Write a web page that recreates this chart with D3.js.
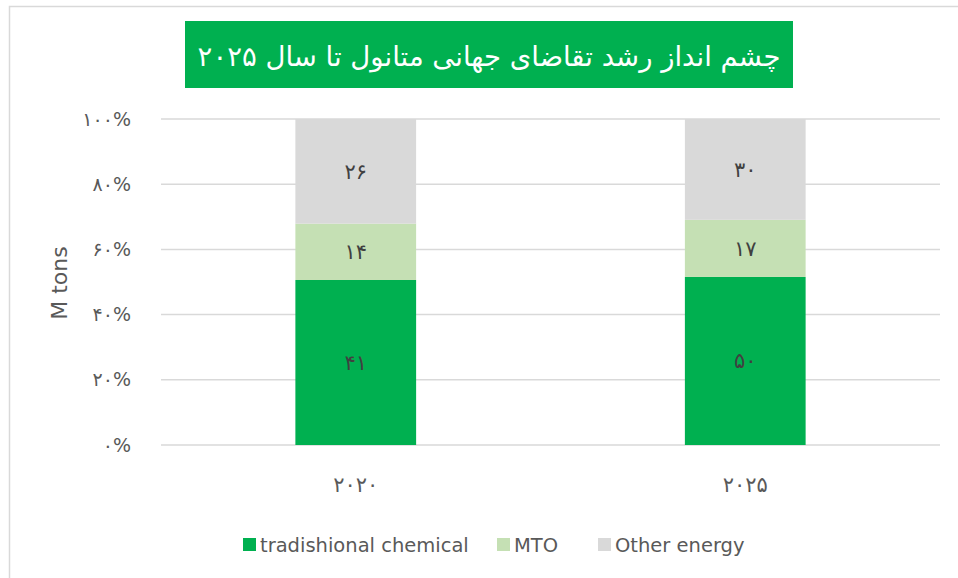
<!DOCTYPE html>
<html>
<head>
<meta charset="utf-8">
<script src="https://cdn.jsdelivr.net/npm/d3@7"></script>
<style>
  body { margin: 0; background: #fff; }
  text { font-family: "DejaVu Sans", "Open Sans", sans-serif; }
</style>
</head>
<body>
<div id="chart"></div>
<script>
var svgWidth = 958;
var svgHeight = 578;

// chart data
var categories = ["2020", "2025"];
var categoryLabels = ["۲۰۲۰", "۲۰۲۵"];
var seriesNames = ["tradishional chemical", "MTO", "Other energy"];
var traditional = [41, 50];
var mto = [14, 17];
var otherEnergy = [26, 30];
var valueLabels = [["۴۱", "۵۰"], ["۱۴", "۱۷"], ["۲۶", "۳۰"]];
var tickValues = [0, 0.2, 0.4, 0.6, 0.8, 1];
var tickLabels = ["۰%", "۲۰%", "۴۰%", "۶۰%", "۸۰%", "۱۰۰%"];
var title = "چشم انداز رشد تقاضای جهانی متانول تا سال ۲۰۲۵";

var colors = ["#00b050", "#c5e0b4", "#d9d9d9"];

var margin = { top: 119, right: 18, bottom: 133, left: 161 };
var width = svgWidth - margin.left - margin.right;
var height = svgHeight - margin.top - margin.bottom;

var svg = d3.select("#chart")
  .append("svg")
  .attr("width", svgWidth)
  .attr("height", svgHeight);

// outer chart border
svg.append("rect")
  .attr("x", 9.5).attr("y", 6.5)
  .attr("width", 980).attr("height", 620)
  .attr("fill", "none")
  .attr("stroke", "#d9d9d9")
  .attr("stroke-width", 1.5);

// title box
svg.append("rect")
  .attr("x", 185).attr("y", 21)
  .attr("width", 608).attr("height", 67)
  .attr("fill", "#00b050");

svg.append("text")
  .attr("x", 489).attr("y", 66)
  .attr("text-anchor", "middle")
  .attr("direction", "rtl")
  .attr("fill", "#fff")
  .attr("font-size", "27.5px")
  .text(title);

var chartGroup = svg.append("g")
  .attr("transform", `translate(${margin.left}, ${margin.top})`);

// stack rows as percentages
var rows = categories.map(function(c, i) {
  var total = traditional[i] + mto[i] + otherEnergy[i];
  return { cat: c, idx: i, s0: traditional[i] / total, s1: mto[i] / total, s2: otherEnergy[i] / total };
});

var stack = d3.stack().keys(["s0", "s1", "s2"]);
var stacked = stack(rows);

var xScale = d3.scaleBand()
  .domain(categories)
  .range([0, width])
  .paddingInner(0.69)
  .paddingOuter(0.345);

var yScale = d3.scaleLinear()
  .domain([0, 1])
  .range([height, 0]);

// gridlines
chartGroup.append("g")
  .selectAll("line")
  .data(tickValues)
  .enter()
  .append("line")
  .attr("x1", 0)
  .attr("x2", width)
  .attr("y1", d => yScale(d))
  .attr("y2", d => yScale(d))
  .attr("stroke", "#d9d9d9")
  .attr("stroke-width", 1.5);

// y axis labels
var leftAxis = d3.axisLeft(yScale)
  .tickValues(tickValues)
  .tickSize(0)
  .tickPadding(30)
  .tickFormat((d, i) => tickLabels[i]);

var yAxis = chartGroup.append("g").call(leftAxis);
yAxis.select(".domain").remove();
yAxis.selectAll("text")
  .attr("font-size", "19px")
  .attr("fill", "#595959")
  .style("font-family", "DejaVu Sans, sans-serif");

// x axis labels
var bottomAxis = d3.axisBottom(xScale)
  .tickSize(0)
  .tickPadding(32)
  .tickFormat((d, i) => categoryLabels[i]);

var xAxis = chartGroup.append("g")
  .attr("transform", `translate(0, ${height})`)
  .call(bottomAxis);
xAxis.select(".domain").remove();
xAxis.selectAll("text")
  .attr("font-size", "21px")
  .attr("fill", "#595959")
  .style("font-family", "DejaVu Sans, sans-serif");

// bars
var layers = chartGroup.selectAll(".layer")
  .data(stacked)
  .enter()
  .append("g")
  .attr("fill", (d, i) => colors[i]);

layers.selectAll("rect")
  .data(d => d)
  .enter()
  .append("rect")
  .attr("x", d => xScale(d.data.cat))
  .attr("y", d => yScale(d[1]))
  .attr("width", xScale.bandwidth())
  .attr("height", d => yScale(d[0]) - yScale(d[1]));

// value labels
stacked.forEach(function(layer, li) {
  chartGroup.selectAll(null)
    .data(layer)
    .enter()
    .append("text")
    .attr("x", d => xScale(d.data.cat) + xScale.bandwidth() / 2)
    .attr("y", d => yScale((d[0] + d[1]) / 2))
    .attr("dy", "0.35em")
    .attr("text-anchor", "middle")
    .attr("font-size", "21px")
    .attr("fill", "#404040")
    .text(d => valueLabels[li][d.data.idx]);
});

// y axis title
svg.append("text")
  .attr("transform", "translate(67, 283) rotate(-90)")
  .attr("text-anchor", "middle")
  .attr("font-size", "22px")
  .attr("fill", "#595959")
  .text("M tons");

// legend
var legendX = [243, 497, 598];
var legend = svg.selectAll(".legend")
  .data(seriesNames)
  .enter()
  .append("g")
  .attr("transform", (d, i) => `translate(${legendX[i]}, 538)`);

legend.append("rect")
  .attr("width", 13).attr("height", 13)
  .attr("fill", (d, i) => colors[i]);

legend.append("text")
  .attr("x", 17)
  .attr("y", 13.5)
  .attr("font-size", "19.5px")
  .attr("fill", "#595959")
  .text(d => d);
</script>
</body>
</html>
